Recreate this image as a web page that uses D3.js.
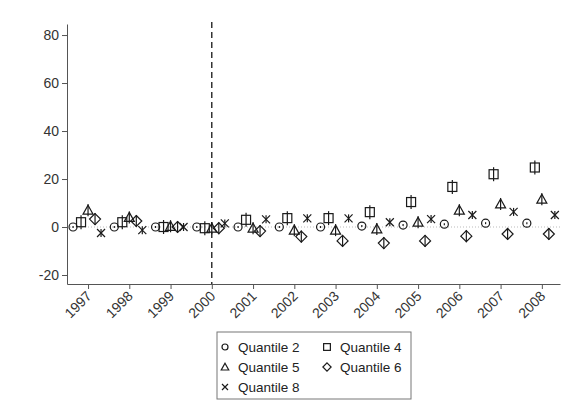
<!DOCTYPE html>
<html>
<head>
<meta charset="utf-8">
<script src="https://cdn.jsdelivr.net/npm/d3@7"></script>
<style>
  body { margin: 0; background: #fff; }
  svg { display: block; font-family: "Liberation Sans", Arial, sans-serif; }
</style>
</head>
<body>
<svg id="chart" width="565" height="413"></svg>
<script>
// data
const years = [1997, 1998, 1999, 2000, 2001, 2002, 2003, 2004, 2005, 2006, 2007, 2008];
const q2 = [0, 0, 0, 0, 0, 0, 0, 0.4, 0.8, 1.2, 1.6, 1.6];
const q4 = [2, 2, 0, -0.5, 3, 3.7, 3.7, 6.2, 10.4, 16.7, 22, 24.8];
const q5 = [7, 4, 0.3, -0.5, -0.5, -1.3, -1.3, -0.8, 2, 7, 9.6, 11.6];
const q6 = [3.3, 2.5, 0, -0.5, -1.7, -4, -5.8, -6.7, -5.8, -3.8, -2.9, -2.9];
const q8 = [-2.5, -1.3, 0, 1.5, 3.2, 3.6, 3.6, 2, 3.3, 5, 6.3, 5];
const yTicks = [-20, 0, 20, 40, 60, 80];

const series = [
    { name: "Quantile 2", values: q2, shape: "circle", offset: -15, ci: 2 },
    { name: "Quantile 4", values: q4, shape: "square", offset: -7, ci: 14 },
    { name: "Quantile 5", values: q5, shape: "triangle", offset: 0, ci: 12 },
    { name: "Quantile 6", values: q6, shape: "diamond", offset: 7, ci: 12 },
    { name: "Quantile 8", values: q8, shape: "cross", offset: 13, ci: 8 }
];

const svg = d3.select("#chart");
const ink = "#1a1a1a";
const axisCol = "#555";

const x = d3.scaleLinear().domain([1996.49, 2008.44]).range([67, 560]);
const y = d3.scaleLinear().domain([-23.75, 84.6]).range([284, 24]);

// zero reference line (dotted)
svg.append("line")
    .attr("x1", 67).attr("x2", 560)
    .attr("y1", y(0)).attr("y2", y(0))
    .attr("stroke", "#bbb")
    .attr("stroke-width", 1)
    .attr("stroke-dasharray", "1,2");

// y axis
const yAxis = svg.append("g")
    .attr("transform", "translate(67,0)")
    .call(d3.axisLeft(y).tickValues(yTicks).tickFormat(d => String(d))
        .tickSize(5).tickSizeOuter(0).tickPadding(3));
yAxis.select(".domain").attr("stroke", axisCol);
yAxis.selectAll(".tick line").attr("stroke", axisCol);
yAxis.selectAll("text").attr("font-size", 14).attr("fill", "#333")
    .attr("font-family", "Liberation Sans, Arial, sans-serif");

// x axis
const xAxis = svg.append("g")
    .attr("transform", "translate(0,284)")
    .call(d3.axisBottom(x).tickValues(years).tickFormat(d => String(d))
        .tickSize(5).tickSizeOuter(0));
xAxis.select(".domain").attr("stroke", axisCol);
xAxis.selectAll(".tick line").attr("stroke", axisCol);
xAxis.selectAll("text")
    .attr("font-size", 14)
    .attr("fill", "#333")
    .attr("font-family", "Liberation Sans, Arial, sans-serif")
    .attr("text-anchor", "end")
    .attr("dx", 0)
    .attr("dy", 0)
    .attr("y", 0)
    .attr("transform", "translate(4,13) rotate(-45)");

// dashed line at 2000
svg.append("line")
    .attr("x1", x(2000)).attr("x2", x(2000))
    .attr("y1", 22).attr("y2", 284)
    .attr("stroke", "#000")
    .attr("stroke-width", 1.2)
    .attr("stroke-dasharray", "6,4");

// marker drawing
function drawMarker(g, shape, cx, cy, scale) {
    const s = scale || 1;
    const common = sel => sel.attr("fill", "none").attr("stroke", ink).attr("stroke-width", 1.2);
    if (shape === "circle") {
        common(g.append("circle").attr("cx", cx).attr("cy", cy).attr("r", 4 * s));
    } else if (shape === "square") {
        common(g.append("rect").attr("x", cx - 4.5 * s).attr("y", cy - 4.5 * s)
            .attr("width", 9 * s).attr("height", 9 * s));
    } else if (shape === "triangle") {
        const h = 5 * s;
        common(g.append("path").attr("d",
            `M${cx},${cy - h}L${cx + h},${cy + h * 0.8}L${cx - h},${cy + h * 0.8}Z`));
    } else if (shape === "diamond") {
        const h = 5.5 * s;
        common(g.append("path").attr("d",
            `M${cx},${cy - h}L${cx + h},${cy}L${cx},${cy + h}L${cx - h},${cy}Z`));
    } else if (shape === "cross") {
        const h = 4 * s;
        common(g.append("path").attr("d",
            `M${cx - h},${cy - h}L${cx + h},${cy + h}M${cx - h},${cy + h}L${cx + h},${cy - h}`));
    }
}

const marks = svg.append("g");
series.forEach(sr => {
    sr.values.forEach((v, i) => {
        const cx = x(years[i]) + sr.offset;
        const cy = y(v);
        // short confidence line through the marker
        marks.append("line")
            .attr("x1", cx).attr("x2", cx)
            .attr("y1", cy - sr.ci / 2).attr("y2", cy + sr.ci / 2)
            .attr("stroke", ink).attr("stroke-width", 1.2);
        drawMarker(marks, sr.shape, cx, cy, 1);
    });
});

// legend
const legend = svg.append("g").attr("transform", "translate(217,332)");
legend.append("rect")
    .attr("x", 0).attr("y", 0)
    .attr("width", 194).attr("height", 67)
    .attr("fill", "#fff")
    .attr("stroke", "#777")
    .attr("stroke-width", 1);

const legendPos = [
    [8, 15], [110, 15],
    [8, 35], [110, 35],
    [8, 55]
];
series.forEach((sr, k) => {
    const [lx, ly] = legendPos[k];
    drawMarker(legend, sr.shape, lx, ly, 0.75);
    legend.append("text")
        .attr("x", lx + 13).attr("y", ly + 5)
        .attr("font-size", 13.5)
        .attr("fill", "#222")
        .text(sr.name);
});
</script>
</body>
</html>
